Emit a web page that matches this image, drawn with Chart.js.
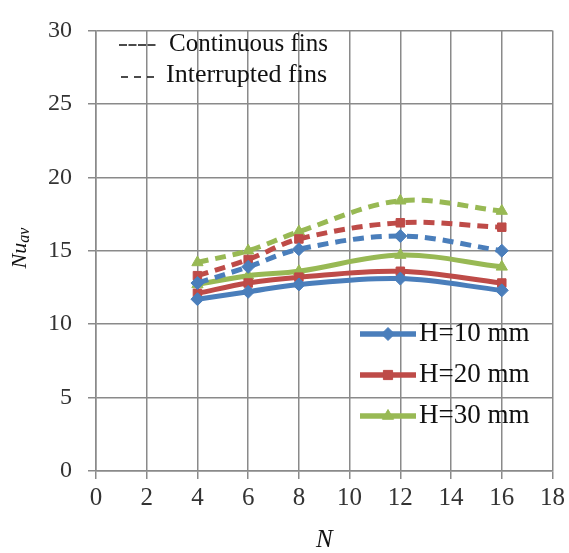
<!DOCTYPE html>
<html><head><meta charset="utf-8">
<script src="https://cdn.jsdelivr.net/npm/chart.js@4"></script>
<style>html,body{margin:0;padding:0;background:#fff}#wrap{width:569px;height:553px}</style>
</head><body><div id="wrap"><canvas id="c" width="569" height="553"></canvas></div>
<script>
const finCounts = [4, 6, 8, 12, 16];
const contH10 = [11.7, 12.2, 12.7, 13.1, 12.3];
const contH20 = [12.1, 12.8, 13.2, 13.6, 12.8];
const contH30 = [12.7, 13.3, 13.6, 14.7, 13.9];
const intH10 = [12.8, 13.9, 15.1, 16.0, 15.0];
const intH20 = [13.3, 14.4, 15.8, 16.9, 16.6];
const intH30 = [14.2, 15.0, 16.3, 18.4, 17.7];
const xTicks = [0, 2, 4, 6, 8, 10, 12, 14, 16, 18];
const yTicks = [0, 5, 10, 15, 20, 25, 30];
const seriesNames = ['H=10 mm', 'H=20 mm', 'H=30 mm'];
const styleNames = ['Continuous fins', 'Interrupted fins'];

const colors = ['#4A7EBB', '#BE4B48', '#98B954'];
const markers = ['rectRot', 'rect', 'triangle'];
const serif = '"Liberation Serif", "DejaVu Serif", serif';

function pts(v){ return finCounts.map((n,i)=>({x:n, y:v[i]})); }
function ds(label, v, k, dashed){
  return {label, data: pts(v), borderColor: colors[k], backgroundColor: colors[k],
    borderWidth: 5, borderDash: dashed ? [11, 7] : [], tension: 0.35,
    pointStyle: markers[k], pointRadius: k===1 ? 6 : 6.5, pointBorderWidth: 1,
    pointBorderColor: colors[k], pointBackgroundColor: colors[k], fill:false};
}
const datasets = [
  ds(seriesNames[0]+' int', intH10, 0, true),
  ds(seriesNames[1]+' int', intH20, 1, true),
  ds(seriesNames[2]+' int', intH30, 2, true),
  ds(seriesNames[0], contH10, 0, false),
  ds(seriesNames[1], contH20, 1, false),
  ds(seriesNames[2], contH30, 2, false),
];

const overlay = {
  id:'overlay',
  afterDraw(chart){
    const ctx = chart.ctx, a = chart.chartArea;
    ctx.save();
    // style legend (top-left)
    ctx.fillStyle = '#111'; ctx.strokeStyle = '#111'; ctx.lineWidth = 1.4;
    ctx.font = '25px ' + serif; ctx.textBaseline = 'middle'; ctx.textAlign = 'left';
    ctx.setLineDash([8, 1.5]);
    ctx.beginPath(); ctx.moveTo(119, 45); ctx.lineTo(157, 45); ctx.stroke();
    ctx.setLineDash([]);
    ctx.fillText(styleNames[0], 169, 44);
    ctx.setLineDash([7, 6]);
    ctx.beginPath(); ctx.moveTo(121, 77); ctx.lineTo(160, 77); ctx.stroke();
    ctx.setLineDash([]);
    ctx.font = '26px ' + serif;
    ctx.fillText(styleNames[1], 166, 75);
    // series legend (bottom-right)
    const ys = [334, 375, 416];
    for (let k=0;k<3;k++){
      const d = chart.data.datasets[3+k];
      ctx.strokeStyle = d.borderColor; ctx.lineWidth = 5.5;
      ctx.beginPath(); ctx.moveTo(360, ys[k]); ctx.lineTo(416, ys[k]); ctx.stroke();
      ctx.fillStyle = d.backgroundColor; ctx.strokeStyle = d.borderColor; ctx.lineWidth = 1;
      Chart.helpers.drawPoint(ctx, {pointStyle: d.pointStyle, radius: 6.5, borderWidth: 1}, 388, ys[k]);
      ctx.fillStyle = '#111'; ctx.font = '27px ' + serif;
      ctx.fillText(seriesNames[k], 419, ys[k]);
    }
    // axis titles
    ctx.fillStyle = '#111';
    ctx.font = 'italic 25px ' + serif; ctx.textAlign = 'center';
    ctx.fillText('N', (a.left + a.right)/2, 540);
    ctx.translate(20, 248); ctx.rotate(-Math.PI/2);
    ctx.textAlign = 'left';
    ctx.font = 'italic 22px ' + serif;
    const w1 = ctx.measureText('Nu').width;
    ctx.font = 'italic 16px ' + serif;
    const w2 = ctx.measureText('av').width;
    const x0 = -(w1 + w2)/2;
    ctx.font = 'italic 22px ' + serif;
    ctx.fillText('Nu', x0, 0);
    ctx.font = 'italic 16px ' + serif;
    ctx.fillText('av', x0 + w1, 5);
    ctx.restore();
  }
};

new Chart(document.getElementById('c'), {
  type: 'line',
  data: { datasets },
  options: {
    responsive: false, animation: false, devicePixelRatio: 1,
    layout: { padding: { left: 0, right: 11, top: 20, bottom: 0 } },
    plugins: { legend: { display: false }, tooltip: { enabled: false } },
    scales: {
      x: { type: 'linear', min: 0, max: 18,
        afterBuildTicks: s => { s.ticks = xTicks.map(v=>({value:v})); },
        afterFit: s => { s.height = 82; },
        grid: { color: '#8a8a8a', lineWidth: 1.5, tickLength: 8, drawTicks: true },
        border: { color: '#8a8a8a', width: 1.5 },
        ticks: { font: { family: serif, size: 25 }, color: '#333', padding: 4, maxRotation: 0, autoSkip: false } },
      y: { min: 0, max: 30,
        afterBuildTicks: s => { s.ticks = yTicks.map(v=>({value:v})); },
        afterFit: s => { s.width = 96; },
        grid: { color: '#8a8a8a', lineWidth: 1.5, tickLength: 8, drawTicks: true },
        border: { color: '#8a8a8a', width: 1.5 },
        ticks: { font: { family: serif, size: 24 }, color: '#333', padding: 16 } }
    }
  },
  plugins: [overlay]
});
</script></body></html>
